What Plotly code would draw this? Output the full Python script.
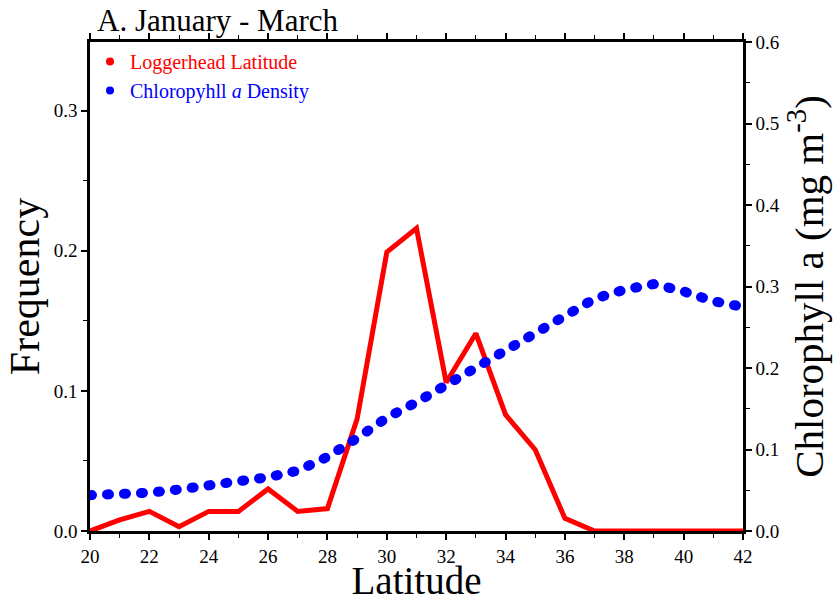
import plotly.graph_objects as go

latitude = list(range(20, 43))
frequency = [0.0, 0.008, 0.014, 0.003, 0.014, 0.014, 0.030, 0.014, 0.016, 0.080,
             0.199, 0.216, 0.106, 0.141, 0.083, 0.058, 0.009, 0.0, 0.0, 0.0,
             0.0, 0.0, 0.0]
chlorophyll = [0.044, 0.045, 0.047, 0.051, 0.055, 0.061, 0.066, 0.074, 0.091, 0.114,
               0.139, 0.158, 0.179, 0.199, 0.223, 0.244, 0.263, 0.285, 0.296, 0.303,
               0.294, 0.282, 0.275]

left_ticks = [0.0, 0.1, 0.2, 0.3]
right_ticks = [0.0, 0.1, 0.2, 0.3, 0.4, 0.5, 0.6]
x_ticks = list(range(20, 43, 2))

FONT = "Liberation Serif"
RED = "#ff0000"
BLUE = "#0000ff"

fig = go.Figure()
fig.add_trace(go.Scatter(x=latitude, y=frequency, mode="lines",
                         line=dict(color=RED, width=5), showlegend=False,
                         yaxis="y"))
fig.add_trace(go.Scatter(x=latitude, y=chlorophyll, mode="lines",
                         line=dict(color=BLUE, width=10, dash="2px,15px"),
                         showlegend=False, yaxis="y2"))
# legend entries
fig.add_trace(go.Scatter(x=[None], y=[None], mode="markers",
                         marker=dict(color=RED, size=8),
                         name='<span style="color:#ff0000">Loggerhead Latitude</span>'))
fig.add_trace(go.Scatter(x=[None], y=[None], mode="markers",
                         marker=dict(color=BLUE, size=8),
                         name='<span style="color:#0000ff">Chloropyhll <i>a</i> Density</span>'))

axis_common = dict(showline=True, linecolor="black", linewidth=2.5, ticks="outside",
                   ticklen=6, tickwidth=1.5, tickcolor="black", showgrid=False,
                   zeroline=False, automargin=False,
                   tickfont=dict(family=FONT, size=19, color="black"))

fig.update_layout(
    width=840, height=602,
    margin=dict(l=90, r=97, t=42, b=71),
    paper_bgcolor="white", plot_bgcolor="white",
    font=dict(family=FONT, color="black"),
    xaxis=dict(range=[20, 42], tickvals=x_ticks, mirror="ticks",
               minor=dict(dtick=1, ticks="outside", ticklen=4, tickcolor="black", tickwidth=1.2),
               title=dict(text="Latitude", font=dict(family=FONT, size=39), standoff=7),
               **axis_common),
    yaxis=dict(range=[0, 0.349], tickvals=left_ticks,
               ticktext=[f"{v:.1f}" for v in left_ticks],
               minor=dict(dtick=0.05, ticks="outside", ticklen=4, tickcolor="black", tickwidth=1.2),
               title=dict(text="Frequency", font=dict(family=FONT, size=42), standoff=2),
               **axis_common),
    yaxis2=dict(range=[0, 0.6], overlaying="y", side="right", tickvals=right_ticks,
                ticktext=[f"{v:.1f}" for v in right_ticks],
                minor=dict(dtick=0.05, ticks="outside", ticklen=4, tickcolor="black", tickwidth=1.2),
                title=dict(text="Chlorophyll a (mg m<sup>-3</sup>)", font=dict(family=FONT, size=41), standoff=8),
                **axis_common),
    legend=dict(x=0.0, y=1.0, xanchor="left", yanchor="top", bgcolor="rgba(0,0,0,0)",
                font=dict(family=FONT, size=20), itemwidth=30, tracegroupgap=0),
    annotations=[dict(text="A. January - March", x=0.008, y=1.0, xref="paper", yref="paper",
                      xanchor="left", yanchor="bottom", showarrow=False, yshift=2,
                      font=dict(family=FONT, size=31, color="black"))],
)

post = """
var s = document.createElement('style');
s.textContent = 'path.js-line{stroke-linecap:round !important;}';
document.head.appendChild(s);
"""
fig.write_html("out.html", post_script=post)
